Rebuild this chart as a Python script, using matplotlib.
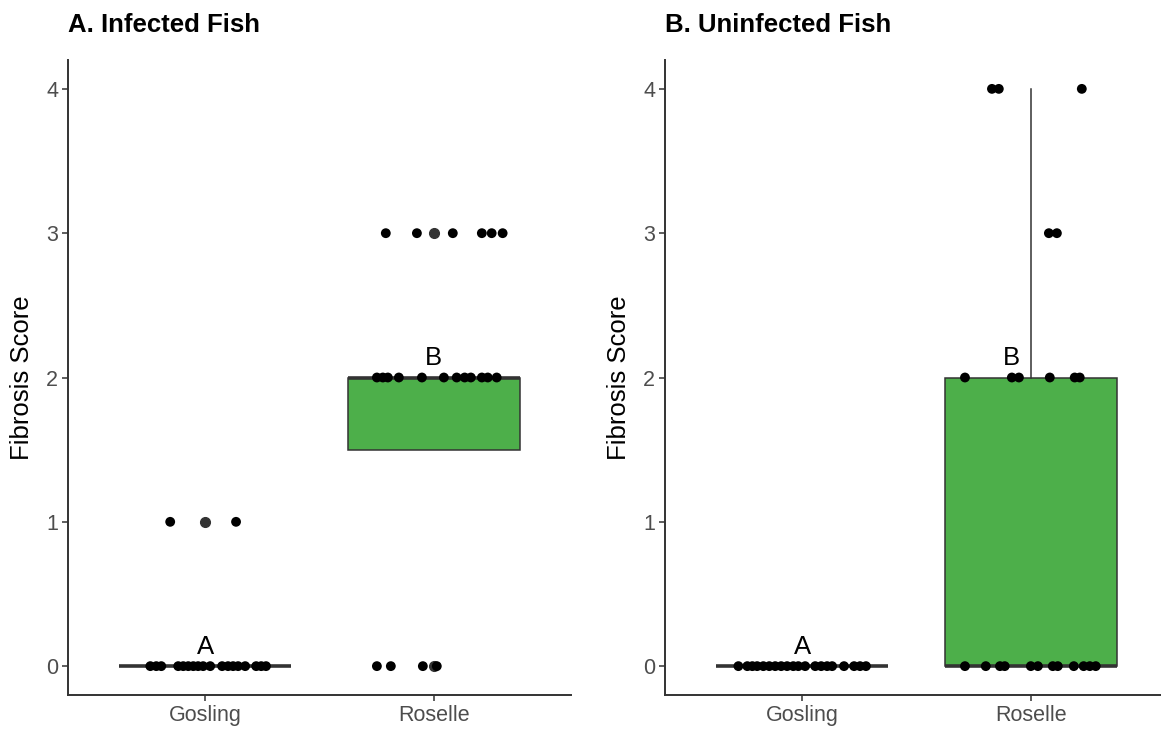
import matplotlib
matplotlib.use("Agg")
import matplotlib.pyplot as plt

plt.rcParams['font.family'] = ['Liberation Sans', 'DejaVu Sans']

categories = ["Gosling", "Roselle"]
yticks = [0, 1, 2, 3, 4]
panel_titles = ["A. Infected Fish", "B. Uninfected Fish"]
y_label = "Fibrosis Score"

# Box statistics: (q1, median, q3, whisker low, whisker high)
infected_box = [
    dict(q1=0, med=0, q3=0, whislo=0, whishi=0, fliers=[1]),
    dict(q1=1.5, med=2, q3=2, whislo=1.5, whishi=2, fliers=[0, 3]),
]
uninfected_box = [
    dict(q1=0, med=0, q3=0, whislo=0, whishi=0, fliers=[]),
    dict(q1=0, med=0, q3=2, whislo=0, whishi=4, fliers=[]),
]

# Jittered points: score -> horizontal jitter offsets (category units)
inf_gosling = {
    1: [-0.153, 0.135],
    0: [-0.240, -0.214, -0.192, -0.118, -0.096, -0.074, -0.052, -0.031, -0.009,
        0.022, 0.074, 0.100, 0.122, 0.144, 0.175, 0.223, 0.245, 0.266],
}
inf_roselle = {
    3: [-0.210, -0.074, 0.083, 0.210, 0.253, 0.301],
    2: [-0.249, -0.223, -0.201, -0.153, -0.052, 0.044, 0.100, 0.135, 0.162,
        0.210, 0.236, 0.275],
    0: [-0.249, -0.188, -0.048, 0.013],
}
uninf_gosling = {
    0: [-0.279, -0.240, -0.218, -0.197, -0.170, -0.144, -0.118, -0.092, -0.066,
        -0.039, -0.017, 0.013, 0.057, 0.083, 0.109, 0.131, 0.183, 0.227, 0.253, 0.279],
}
uninf_roselle = {
    0: [-0.288, -0.197, -0.135, -0.114, 0.0, 0.031, 0.096, 0.118, 0.188, 0.231,
        0.258, 0.284],
    2: [-0.288, -0.083, -0.052, 0.083, 0.192, 0.214],
    3: [0.079, 0.114],
    4: [-0.170, -0.140, 0.223],
}

# Significance letters: (x position, y level, letter)
inf_letters = [(1.0, 0, "A"), (2.0, 2, "B")]
uninf_letters = [(1.0, 0, "A"), (1.917, 2, "B")]

panels = [
    (panel_titles[0], infected_box, [inf_gosling, inf_roselle], inf_letters),
    (panel_titles[1], uninfected_box, [uninf_gosling, uninf_roselle], uninf_letters),
]

W, H = 1161, 732
fig = plt.figure(figsize=(W / 100, H / 100), dpi=100)

green = "#4DAF4A"
dark = "#333333"
axes_left_px = [68, 665]

for i, (title, boxes, points, letters) in enumerate(panels):
    lx = axes_left_px[i]
    ax = fig.add_axes([lx / W, (H - 695) / H, 503 / W, 635 / H])
    ax.set_xlim(0.4, 2.6)
    ax.set_ylim(-0.2, 4.2)

    stats = []
    for b in boxes:
        s = dict(b)
        stats.append(s)
    bp = ax.bxp(stats, positions=[1, 2], widths=0.75, patch_artist=True,
                showcaps=False, showfliers=True,
                boxprops=dict(facecolor=green, edgecolor=dark, linewidth=1.1),
                whiskerprops=dict(color=dark, linewidth=1.1),
                medianprops=dict(color=dark, linewidth=2.6, solid_capstyle='butt'),
                flierprops=dict(marker='o', markerfacecolor=dark, markeredgecolor=dark,
                                markersize=7.0, linestyle='none'),
                zorder=2)
    # collapsed boxes: no green fill visible anyway

    for ci, grp in enumerate(points):
        xs, ys = [], []
        for score, offs in grp.items():
            for o in offs:
                xs.append(ci + 1 + o)
                ys.append(score)
        ax.scatter(xs, ys, s=50, color="black", edgecolors='none', zorder=3)

    for (x, y, t) in letters:
        ax.text(x, y + 0.085, t, ha='center', va='baseline', fontsize=18.5,
                color='black', zorder=4)

    for sp in ['top', 'right']:
        ax.spines[sp].set_visible(False)
    for sp in ['left', 'bottom']:
        ax.spines[sp].set_color(dark)
        ax.spines[sp].set_linewidth(1.4)

    ax.set_xticks([1, 2])
    ax.set_xticklabels(categories)
    ax.set_yticks(yticks)
    ax.set_yticklabels([str(v) for v in yticks])
    ax.tick_params(axis='both', colors=dark, length=4.0, width=1.1, labelsize=15.5,
                   labelcolor="#4D4D4D", pad=3)
    ax.set_facecolor('white')

    fig.text((lx - 46) / W, 1 - 378 / H, y_label, rotation=90, ha='center',
             va='center', fontsize=18.5, color='black')
    fig.text(lx / W, 1 - 32 / H, title, ha='left', va='baseline', fontsize=18.5,
             fontweight='bold', color='black')

fig.savefig("out.png", dpi=100, facecolor='white')
